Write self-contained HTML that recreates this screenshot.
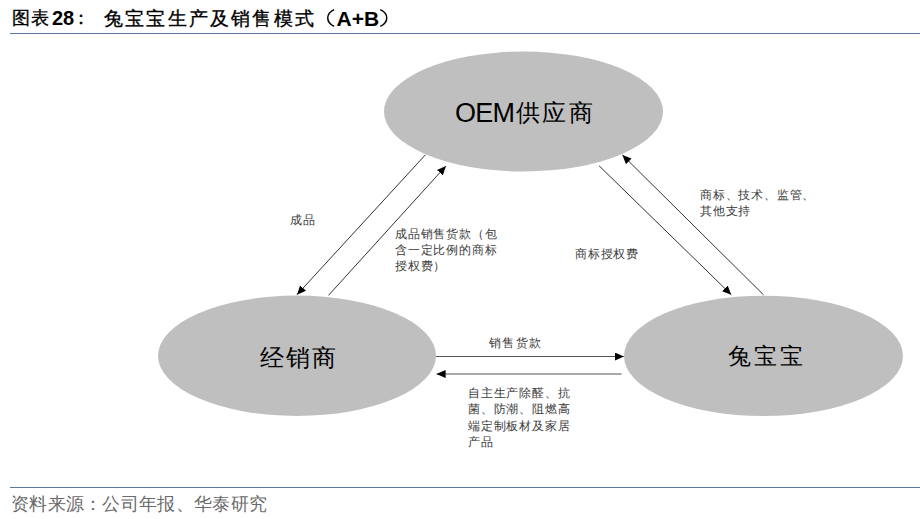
<!DOCTYPE html>
<html><head><meta charset="utf-8">
<style>
html,body{margin:0;padding:0;background:#fff;}
body{width:920px;height:519px;position:relative;overflow:hidden;font-family:"Liberation Sans",sans-serif;color:#000;}
.t{position:absolute;white-space:nowrap;line-height:1;}
.b{font-weight:bold;}
.k{-webkit-text-stroke:0.35px #000;}
svg{position:absolute;left:0;top:0;}
</style></head><body>
<svg width="920" height="519" viewBox="0 0 920 519">
  <defs>
    <marker id="ar" markerWidth="9" markerHeight="8" refX="9" refY="4" orient="auto" markerUnits="userSpaceOnUse">
      <path d="M0,0 L9,4 L0,8 z" fill="#000"/>
    </marker>
  </defs>
  <rect x="10" y="33" width="910" height="1" fill="#5b79a6"/>
  <rect x="10" y="487" width="910" height="1" fill="#5b79a6"/>
  <ellipse cx="523.5" cy="111.5" rx="139.5" ry="60" fill="#bfbfbf"/>
  <ellipse cx="297" cy="355.8" rx="139" ry="60.2" fill="#bfbfbf"/>
  <ellipse cx="763.5" cy="355.9" rx="139.5" ry="60.2" fill="#bfbfbf"/>
  <g stroke="#333" stroke-width="1" fill="none">
    <line x1="425.4" y1="154.8" x2="297" y2="294.7" marker-end="url(#ar)"/>
    <line x1="328.5" y1="295.4" x2="445.9" y2="166" marker-end="url(#ar)"/>
    <line x1="599.1" y1="165.8" x2="731.3" y2="294.7" marker-end="url(#ar)"/>
    <line x1="763.6" y1="294.9" x2="622.4" y2="155" marker-end="url(#ar)"/>
  </g>
  <g stroke="#555" stroke-width="1" fill="none">
    <line x1="436" y1="356.5" x2="623.9" y2="356.5" marker-end="url(#ar)"/>
    <line x1="621.6" y1="374" x2="436.6" y2="374" marker-end="url(#ar)"/>
  </g>
  <path d="M334.2,9.6 C325.6,13.5 325.6,22.5 334.2,26.4" stroke="#000" stroke-width="1.5" fill="none"/>
  <path d="M380.3,9.6 C388.9,13.5 388.9,22.5 380.3,26.4" stroke="#000" stroke-width="1.5" fill="none"/>
</svg>
<div class="t k" id="t1" style="left:12px;top:9px;font-size:18px;letter-spacing:0.5px;">图表</div>
<div class="t b" id="t2" style="left:52px;top:8px;font-size:20px;">28</div>
<div class="t k" id="t3" style="left:72px;top:9px;font-size:18px;">：</div>
<div class="t k" id="t4" style="left:104px;top:9px;font-size:19px;letter-spacing:2.2px;">兔宝宝生产及销售模式</div>
<div class="t" id="t5" style="left:314px;top:9px;font-size:19px;color:transparent;">（</div>
<div class="t b" id="t6" style="left:336.5px;top:7.5px;font-size:21px;">A+B</div>
<div class="t" id="t7" style="left:378px;top:9px;font-size:19px;color:transparent;">）</div>

<div class="t" style="left:455px;top:99.5px;font-size:27px;letter-spacing:-0.7px;">OEM</div>
<div class="t" style="left:516px;top:101px;font-size:24px;letter-spacing:2.4px;">供应商</div>
<div class="t" style="left:260px;top:346px;font-size:24px;letter-spacing:1.8px;">经销商</div>
<div class="t" style="left:728px;top:344.5px;font-size:23px;letter-spacing:3px;">兔宝宝</div>
<div class="t" style="left:290px;top:213.5px;font-size:12.4px;letter-spacing:0.8px;color:#3a3a3a;">成品</div>
<div class="t" style="left:395px;top:226px;font-size:12.4px;letter-spacing:0.8px;color:#3a3a3a;line-height:16.2px;">成品销售货款（包<br>含一定比例的商标<br>授权费）</div>
<div class="t" style="left:575px;top:247.5px;font-size:12.4px;letter-spacing:0.8px;color:#3a3a3a;">商标授权费</div>
<div class="t" style="left:700px;top:186.5px;font-size:12.4px;letter-spacing:0.8px;color:#3a3a3a;line-height:16.5px;">商标、技术、监管、<br>其他支持</div>
<div class="t" style="left:488.5px;top:336.5px;font-size:12.4px;letter-spacing:1.5px;color:#3a3a3a;">销售货款</div>
<div class="t" style="left:468px;top:385px;font-size:12.4px;letter-spacing:0.8px;color:#3a3a3a;line-height:16.4px;">自主生产除醛、抗<br>菌、防潮、阻燃高<br>端定制板材及家居<br>产品</div>
<div class="t" style="left:11px;top:495px;font-size:18px;letter-spacing:0.3px;color:#6a6a6a;">资料来源：公司年报、华泰研究</div>
</body></html>
